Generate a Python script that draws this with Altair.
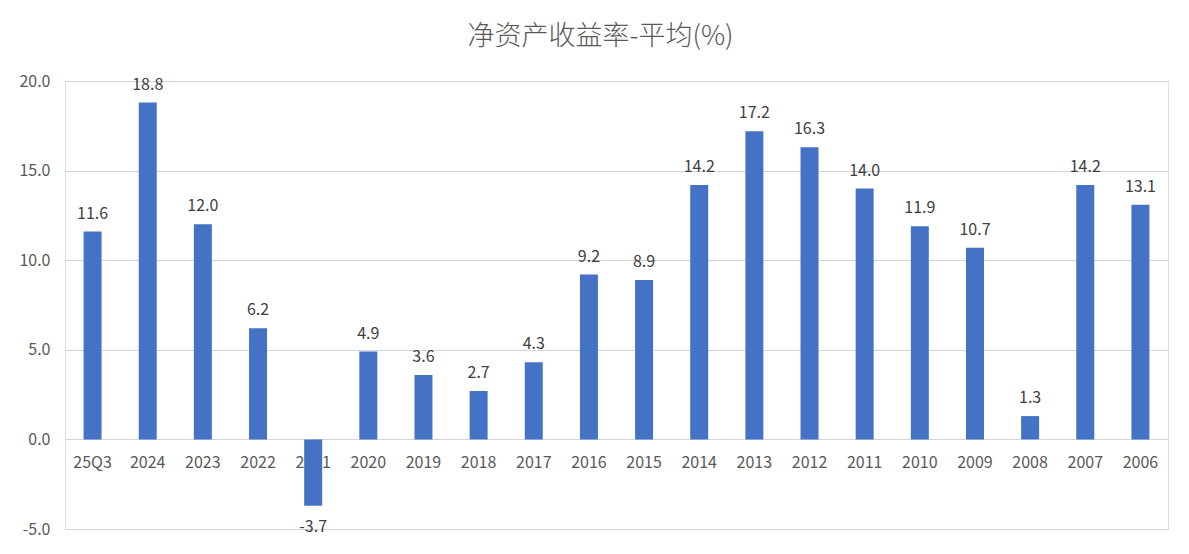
import altair as alt
import pandas as pd

categories = ["25Q3", "2024", "2023", "2022", "2021", "2020", "2019", "2018", "2017", "2016",
              "2015", "2014", "2013", "2012", "2011", "2010", "2009", "2008", "2007", "2006"]
roe = [11.6, 18.8, 12.0, 6.2, -3.7, 4.9, 3.6, 2.7, 4.3, 9.2,
       8.9, 14.2, 17.2, 16.3, 14.0, 11.9, 10.7, 1.3, 14.2, 13.1]
y_ticks = [-5, 0, 5, 10, 15, 20]

df = pd.DataFrame({"cat": categories, "v": roe})

W, H = 1103, 448
FONT = "Noto Sans CJK SC"
GREY = "#595959"

x = alt.X("cat:N", sort=categories, title=None,
          scale=alt.Scale(paddingInner=0, paddingOuter=0),
          axis=alt.Axis(labelAngle=0, ticks=False, domain=False,
                        labelColor=GREY, labelFontSize=16, labelFont=FONT,
                        labelPadding=15, offset=-H * 5 / 25, grid=False))
y = alt.Y("v:Q", title=None,
          scale=alt.Scale(domain=[-5, 20], nice=False, zero=False),
          axis=alt.Axis(values=y_ticks, format=".1f", ticks=False, domain=False,
                        gridColor="#d4d4d4", gridWidth=1, labelColor=GREY,
                        labelFontSize=16, labelFont=FONT, labelPadding=15))

base = alt.Chart(df)
bars = base.mark_bar(size=18, color="#4472C4").encode(x=x, y=y)
pos_labels = base.transform_filter("datum.v >= 0").mark_text(
    dy=-10, baseline="bottom", fontSize=16, font=FONT, color="#404040"
).encode(x=alt.X("cat:N", sort=categories), y="v:Q", text=alt.Text("v:Q", format=".1f"))
neg_labels = base.transform_filter("datum.v < 0").mark_text(
    dy=13, baseline="top", fontSize=16, font=FONT, color="#404040"
).encode(x=alt.X("cat:N", sort=categories), y="v:Q", text=alt.Text("v:Q", format=".1f"))

chart = alt.layer(bars, pos_labels, neg_labels).properties(
    width=W, height=H,
    title=alt.TitleParams("净资产收益率-平均(%)", fontSize=27, font=FONT, fontWeight=300,
                          color=GREY, anchor="middle", dx=-16, offset=22),
    autosize=alt.AutoSizeParams(type="none"),
    padding={"left": 57, "top": 73, "right": 12, "bottom": 17},
).configure_view(stroke=None).configure(
    background="white",
    locale={"number": {"decimal": ".", "thousands": ",", "grouping": [3],
                       "currency": ["", ""], "minus": "-"}},
)

chart.save("out.html", embed_options={"renderer": "svg", "actions": False})
